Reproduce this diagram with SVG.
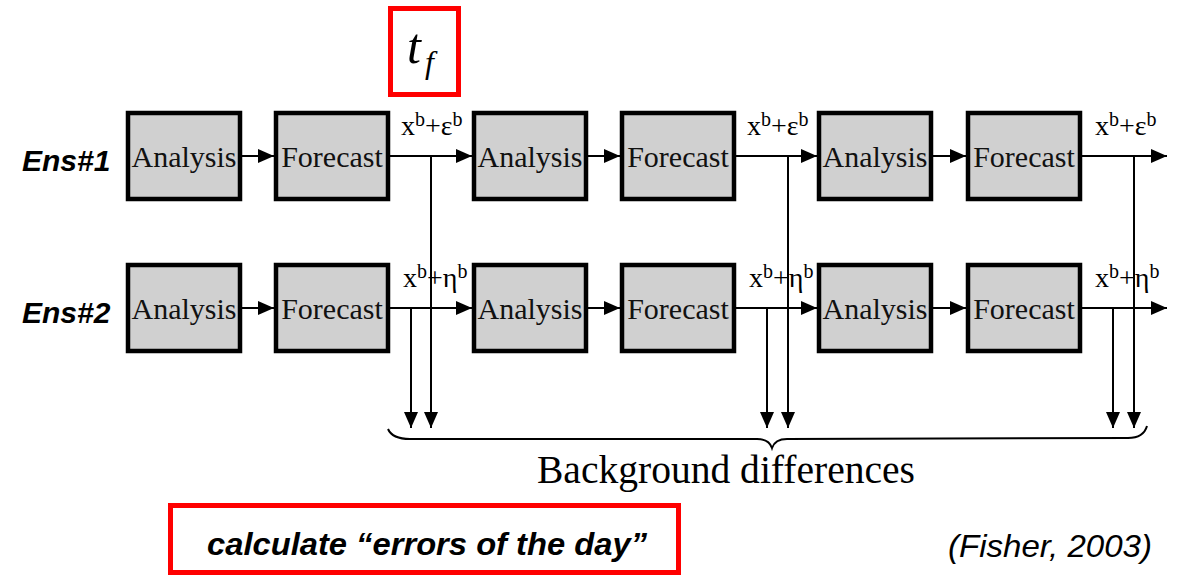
<svg xmlns="http://www.w3.org/2000/svg" width="1184" height="578" viewBox="0 0 1184 578">
<style>
.box{fill:#d0d0d0;stroke:#000;stroke-width:4.5}
.bt{font-family:"Liberation Serif",serif;font-size:30px;fill:#111;text-anchor:middle}
.lbl{font-family:"Liberation Serif",serif;font-size:28px;fill:#000}
.sup{font-size:20px}
.ens{font-family:"Liberation Sans",sans-serif;font-size:30px;font-weight:bold;font-style:italic;fill:#000}
.ln{stroke:#000;stroke-width:2;fill:none}
.red{fill:#fff;stroke:#f00;stroke-width:5}
</style>
<defs>
<marker id="ah" markerUnits="userSpaceOnUse" markerWidth="16" markerHeight="14" refX="16" refY="7" orient="auto">
<path d="M0,0 L16,7 L0,14 z" fill="#000"/>
</marker>
</defs>
<rect width="1184" height="578" fill="#fff"/>

<g id="tf">
<rect class="red" x="390.5" y="8.5" width="68" height="86"/>
<text x="407" y="63" font-family="Liberation Serif,serif" font-style="italic" font-size="50">t</text>
<text x="425" y="73" font-family="Liberation Serif,serif" font-style="italic" font-size="32">f</text>
</g>

<g id="ens1"><text class="ens" x="22" y="171">Ens#1</text></g>
<g id="ens2"><text class="ens" x="22" y="323">Ens#2</text></g>

<g id="r1a1"><rect class="box" x="128" y="113" width="112" height="86"/><text class="bt" x="184" y="167">Analysis</text></g>
<g id="r1f1"><rect class="box" x="276" y="113" width="112" height="86"/><text class="bt" x="332" y="167">Forecast</text></g>
<g id="r1a2"><rect class="box" x="474" y="113" width="112" height="86"/><text class="bt" x="530" y="167">Analysis</text></g>
<g id="r1f2"><rect class="box" x="622" y="113" width="112" height="86"/><text class="bt" x="678" y="167">Forecast</text></g>
<g id="r1a3"><rect class="box" x="819" y="113" width="112" height="86"/><text class="bt" x="875" y="167">Analysis</text></g>
<g id="r1f3"><rect class="box" x="968" y="113" width="112" height="86"/><text class="bt" x="1024" y="167">Forecast</text></g>

<g id="r2a1"><rect class="box" x="128" y="265" width="112" height="86"/><text class="bt" x="184" y="319">Analysis</text></g>
<g id="r2f1"><rect class="box" x="276" y="265" width="112" height="86"/><text class="bt" x="332" y="319">Forecast</text></g>
<g id="r2a2"><rect class="box" x="474" y="265" width="112" height="86"/><text class="bt" x="530" y="319">Analysis</text></g>
<g id="r2f2"><rect class="box" x="622" y="265" width="112" height="86"/><text class="bt" x="678" y="319">Forecast</text></g>
<g id="r2a3"><rect class="box" x="819" y="265" width="112" height="86"/><text class="bt" x="875" y="319">Analysis</text></g>
<g id="r2f3"><rect class="box" x="968" y="265" width="112" height="86"/><text class="bt" x="1024" y="319">Forecast</text></g>

<g id="connectors">
<line class="ln" x1="242" y1="156" x2="274" y2="156" marker-end="url(#ah)"/>
<line class="ln" x1="390" y1="156" x2="472" y2="156" marker-end="url(#ah)"/>
<line class="ln" x1="588" y1="156" x2="620" y2="156" marker-end="url(#ah)"/>
<line class="ln" x1="736" y1="156" x2="817" y2="156" marker-end="url(#ah)"/>
<line class="ln" x1="933" y1="156" x2="966" y2="156" marker-end="url(#ah)"/>
<line class="ln" x1="1082" y1="156" x2="1167" y2="156" marker-end="url(#ah)"/>

<line class="ln" x1="242" y1="308" x2="274" y2="308" marker-end="url(#ah)"/>
<line class="ln" x1="390" y1="308" x2="472" y2="308" marker-end="url(#ah)"/>
<line class="ln" x1="588" y1="308" x2="620" y2="308" marker-end="url(#ah)"/>
<line class="ln" x1="736" y1="308" x2="817" y2="308" marker-end="url(#ah)"/>
<line class="ln" x1="933" y1="308" x2="966" y2="308" marker-end="url(#ah)"/>
<line class="ln" x1="1082" y1="308" x2="1167" y2="308" marker-end="url(#ah)"/>

<line class="ln" x1="431" y1="156" x2="431" y2="428" marker-end="url(#ah)"/>
<line class="ln" x1="411" y1="308" x2="411" y2="428" marker-end="url(#ah)"/>
<line class="ln" x1="788" y1="156" x2="788" y2="428" marker-end="url(#ah)"/>
<line class="ln" x1="767" y1="308" x2="767" y2="428" marker-end="url(#ah)"/>
<line class="ln" x1="1134" y1="156" x2="1134" y2="428" marker-end="url(#ah)"/>
<line class="ln" x1="1113" y1="308" x2="1113" y2="428" marker-end="url(#ah)"/>
</g>

<g id="labels">
<text class="lbl" x="401" y="135">x<tspan class="sup" dy="-9">b</tspan><tspan dy="9">+ε</tspan><tspan class="sup" dy="-9">b</tspan></text>
<text class="lbl" x="747" y="135">x<tspan class="sup" dy="-9">b</tspan><tspan dy="9">+ε</tspan><tspan class="sup" dy="-9">b</tspan></text>
<text class="lbl" x="1095" y="135">x<tspan class="sup" dy="-9">b</tspan><tspan dy="9">+ε</tspan><tspan class="sup" dy="-9">b</tspan></text>
<text class="lbl" x="403" y="287">x<tspan class="sup" dy="-9">b</tspan><tspan dy="9">+η</tspan><tspan class="sup" dy="-9">b</tspan></text>
<text class="lbl" x="749" y="287">x<tspan class="sup" dy="-9">b</tspan><tspan dy="9">+η</tspan><tspan class="sup" dy="-9">b</tspan></text>
<text class="lbl" x="1095" y="287">x<tspan class="sup" dy="-9">b</tspan><tspan dy="9">+η</tspan><tspan class="sup" dy="-9">b</tspan></text>
</g>

<g id="brace">
<path class="ln" d="M388,429 C391,436 398,439 410,439 L757,439 C765,439 770,442 772,448 C774,442 779,439 787,439 L1128,438 C1140,438 1145,433 1147,426"/>
<text x="726" y="483" font-family="Liberation Serif,serif" font-size="40" text-anchor="middle" textLength="378" lengthAdjust="spacingAndGlyphs" fill="#000">Background differences</text>
</g>

<g id="errors">
<rect class="red" x="170.5" y="505.5" width="508" height="67"/>
<text x="427" y="555" font-family="Liberation Sans,sans-serif" font-size="32" font-weight="bold" font-style="italic" text-anchor="middle" textLength="440" lengthAdjust="spacingAndGlyphs" fill="#000">calculate “errors of the day”</text>
</g>

<g id="cite">
<text x="1050" y="557" font-family="Liberation Sans,sans-serif" font-size="32" font-style="italic" text-anchor="middle" textLength="204" lengthAdjust="spacingAndGlyphs" fill="#000">(Fisher, 2003)</text>
</g>
</svg>
